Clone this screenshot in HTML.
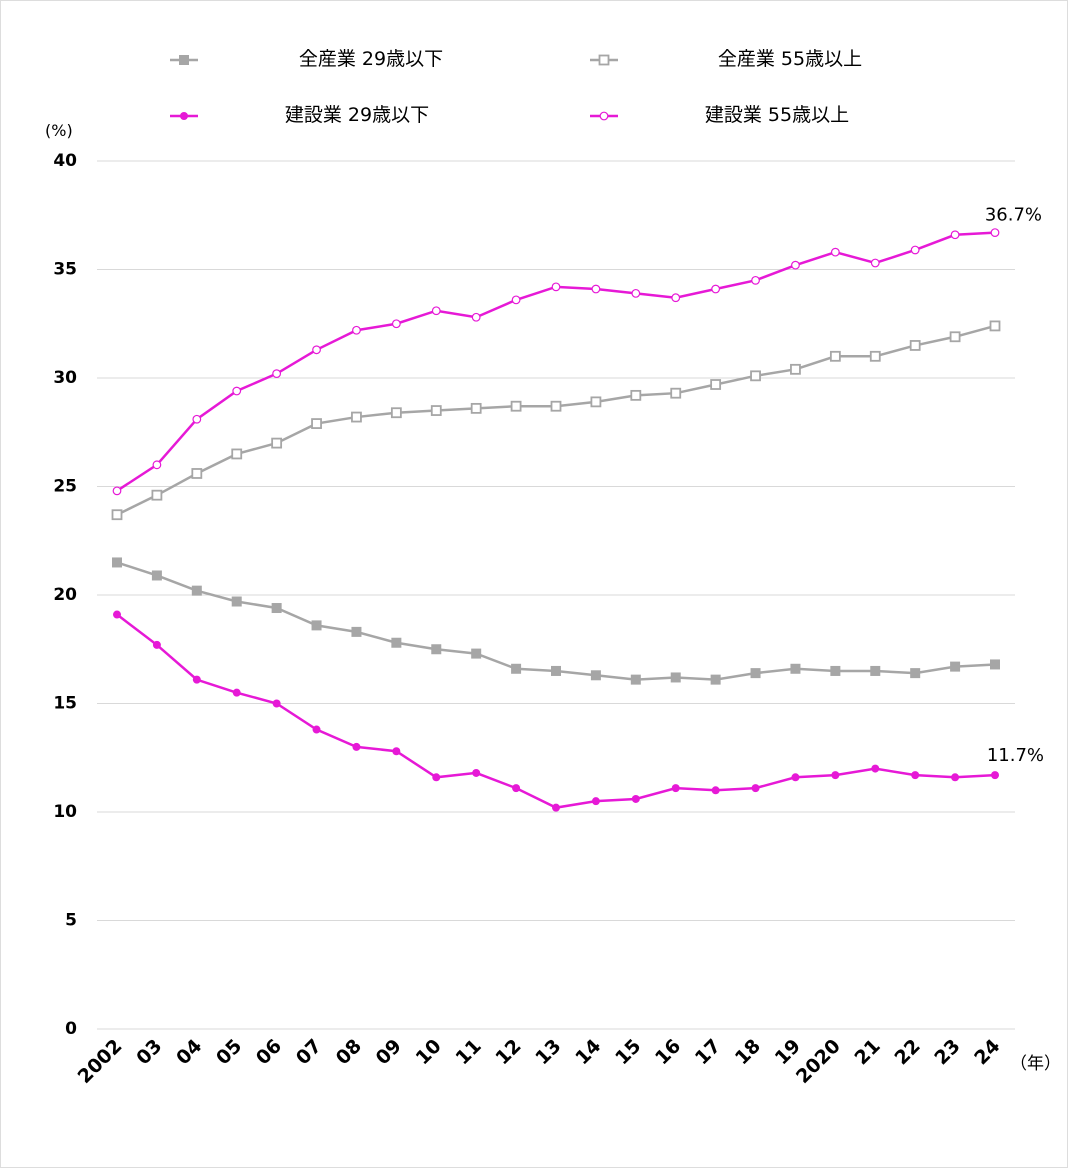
<!DOCTYPE html>
<html><head><meta charset="utf-8"><style>
body{margin:0;background:#fff}
svg{display:block}
text{font-family:"DejaVu Sans","Noto Sans CJK JP",sans-serif}
</style></head><body>
<svg width="1068" height="1168">
<rect x="0.5" y="0.5" width="1067" height="1167" fill="#fff" stroke="#ddd"/>
<g id="grid"></g><g id="axes"></g><g id="series"></g><g id="legend"></g>
</svg>
<script>
const years=["2002","03","04","05","06","07","08","09","10","11","12","13","14","15","16","17","18","19","2020","21","22","23","24"];
const yTicks=[0,5,10,15,20,25,30,35,40];
const allYoung=[21.5,20.9,20.2,19.7,19.4,18.6,18.3,17.8,17.5,17.3,16.6,16.5,16.3,16.1,16.2,16.1,16.4,16.6,16.5,16.5,16.4,16.7,16.8];
const allOld=[23.7,24.6,25.6,26.5,27.0,27.9,28.2,28.4,28.5,28.6,28.7,28.7,28.9,29.2,29.3,29.7,30.1,30.4,31.0,31.0,31.5,31.9,32.4];
const conYoung=[19.1,17.7,16.1,15.5,15.0,13.8,13.0,12.8,11.6,11.8,11.1,10.2,10.5,10.6,11.1,11.0,11.1,11.6,11.7,12.0,11.7,11.6,11.7];
const conOld=[24.8,26.0,28.1,29.4,30.2,31.3,32.2,32.5,33.1,32.8,33.6,34.2,34.1,33.9,33.7,34.1,34.5,35.2,35.8,35.3,35.9,36.6,36.7];
const NS="http://www.w3.org/2000/svg";
const X=i=>117+i*(995-117)/(years.length-1);
const Y=v=>1029-v*(1029-161)/40;
function mk(tag,attrs,parent,txt){const e=document.createElementNS(NS,tag);for(const k in attrs)e.setAttribute(k,attrs[k]);if(txt!==undefined)e.textContent=txt;parent.appendChild(e);return e;}
const grid=document.getElementById('grid'),axes=document.getElementById('axes'),ser=document.getElementById('series'),leg=document.getElementById('legend');
yTicks.forEach(t=>{
 const l=mk('line',{x1:97,x2:1015,y1:Y(t),y2:Y(t),stroke:'#d9d9d9','stroke-width':1},grid);
 
 
 const tx=mk('text',{x:77,y:Y(t)+5,'text-anchor':'end','font-size':17,'font-weight':'bold',fill:'#000'},axes,String(t));
 
 
});
const yt=mk('text',{x:45,y:136,'font-size':16,fill:'#000'},axes,'(%)');


years.forEach((y,i)=>{
 const x=X(i)+6,yy=1047;
 const t=mk('text',{x:x,y:yy,'text-anchor':'end','font-size':19,'font-weight':'bold',fill:'#000',transform:`rotate(-45 ${x} ${yy})`},axes,y);
 
 
});
const xu=mk('text',{x:1010,y:1069,'font-size':17,fill:'#000'},axes,'（年）');


const G='#a6a6a6',M='#e619d6';
function series(data,color,marker,name){
 const g=mk('g',{},ser);
 
 
 const p=mk('polyline',{points:data.map((v,i)=>X(i)+','+Y(v)).join(' '),fill:'none',stroke:color,'stroke-width':2.5},g);
 
 
 data.forEach((v,i)=>{
  let m;
  if(marker=='sq')m=mk('rect',{x:X(i)-5,y:Y(v)-5,width:10,height:10,fill:color},g);
  else if(marker=='osq')m=mk('rect',{x:X(i)-4.5,y:Y(v)-4.5,width:9,height:9,fill:'#fff',stroke:color,'stroke-width':1.8},g);
  else if(marker=='dot')m=mk('circle',{cx:X(i),cy:Y(v),r:4,fill:color},g);
  else m=mk('circle',{cx:X(i),cy:Y(v),r:3.8,fill:'#fff',stroke:color,'stroke-width':1.2},g);
  
  
 });
}
series(allOld,G,'osq','all-industries-55-plus');
series(allYoung,G,'sq','all-industries-29-under');
series(conOld,M,'odot','construction-55-plus');
series(conYoung,M,'dot','construction-29-under');
const l1=mk('text',{x:1042,y:Y(conOld[22])-12,'text-anchor':'end','font-size':18,fill:'#000'},ser,conOld[22].toFixed(1)+'%');


const l2=mk('text',{x:1044,y:Y(conYoung[22])-14,'text-anchor':'end','font-size':18,fill:'#000'},ser,conYoung[22].toFixed(1)+'%');


const legs=[[170,58,G,'sq','全産業 29歳以下',371],[590,58,G,'osq','全産業 55歳以上',790],[170,114,M,'dot','建設業 29歳以下',357],[590,114,M,'odot','建設業 55歳以上',777]];
legs.forEach(([x,y,c,m,t,tx])=>{
 const g=mk('g',{},leg);
 
 
 mk('line',{x1:x,x2:x+28,y1:y+2,y2:y+2,stroke:c,'stroke-width':2.5},g);
 const cx=x+14,cy=y+2;
 if(m=='sq')mk('rect',{x:cx-5,y:cy-5,width:10,height:10,fill:c},g);
 else if(m=='osq')mk('rect',{x:cx-4.5,y:cy-4.5,width:9,height:9,fill:'#fff',stroke:c,'stroke-width':1.8},g);
 else if(m=='dot')mk('circle',{cx:cx,cy:cy,r:4,fill:c},g);
 else mk('circle',{cx:cx,cy:cy,r:3.8,fill:'#fff',stroke:c,'stroke-width':1.2},g);
 mk('text',{x:tx,y:y+7,'text-anchor':'middle','font-size':19,fill:'#000'},g,t);
});
</script>
</body></html>
